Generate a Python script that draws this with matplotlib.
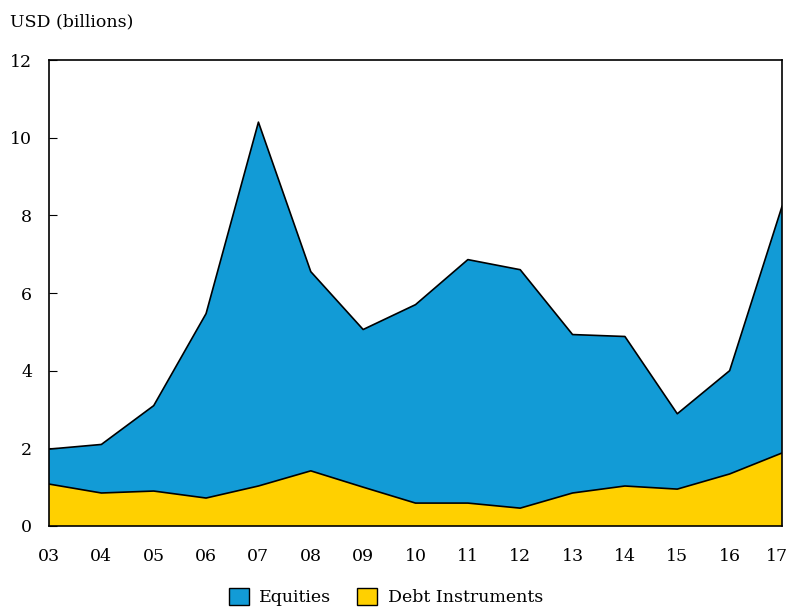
import matplotlib
matplotlib.use('Agg')
import matplotlib.pyplot as plt
import matplotlib.transforms as mtransforms
from matplotlib.patches import Patch

years = ['03', '04', '05', '06', '07', '08', '09', '10', '11', '12', '13', '14', '15', '16', '17']
# totals (top of stack) and debt part, USD billions
total = [1.98, 2.1, 3.1, 5.47, 10.4, 6.55, 5.06, 5.7, 6.86, 6.6, 4.93, 4.88, 2.89, 4.0, 8.23]
debt = [1.08, 0.85, 0.9, 0.72, 1.03, 1.42, 1.0, 0.59, 0.59, 0.46, 0.85, 1.03, 0.95, 1.34, 1.88]
equities = [t - d for t, d in zip(total, debt)]

blue = '#129bd6'
yellow = '#ffd000'

plt.rcParams['font.family'] = ['DejaVu Serif', 'Liberation Serif']
fs = 12.5
plt.rcParams['font.size'] = fs

fig = plt.figure(figsize=(7.91, 6.09), dpi=100)
ax = fig.add_axes([49 / 791, 1 - 526 / 609, (782 - 49) / 791, (526 - 60) / 609])

x = list(range(len(years)))
ax.stackplot(x, debt, equities, colors=[yellow, blue], linewidth=0)
ax.plot(x, debt, color='black', lw=1.2)
ax.plot(x, total, color='black', lw=1.2)

ax.set_xlim(0, len(years) - 1)
ax.set_ylim(0, 12)
ax.set_yticks(range(0, 13, 2))
ax.set_xticks(x)
ax.set_xticklabels(years)
ax.tick_params(axis='y', direction='in', length=6, pad=12)
ax.tick_params(axis='x', length=0, pad=16)
for s in ax.spines.values():
    s.set_linewidth(1.2)

# last label sits right at the figure edge, nudge it in a little
last = ax.get_xticklabels()[-1]
last.set_transform(last.get_transform() + mtransforms.ScaledTranslation(-5 / 100, 0, fig.dpi_scale_trans))

fig.text(10 / 791, 1 - 22 / 609, 'USD (billions)', ha='left', va='center', fontsize=fs)

handles = [Patch(facecolor=blue, edgecolor='black', label='Equities'),
           Patch(facecolor=yellow, edgecolor='black', label='Debt Instruments')]
fig.legend(handles=handles, loc='center', bbox_to_anchor=(386 / 791, 1 - 597 / 609),
           ncol=2, frameon=False, handlelength=1.15, handleheight=1.15,
           handletextpad=0.6, columnspacing=1.5, fontsize=fs)

fig.savefig('out.png', dpi=100)
